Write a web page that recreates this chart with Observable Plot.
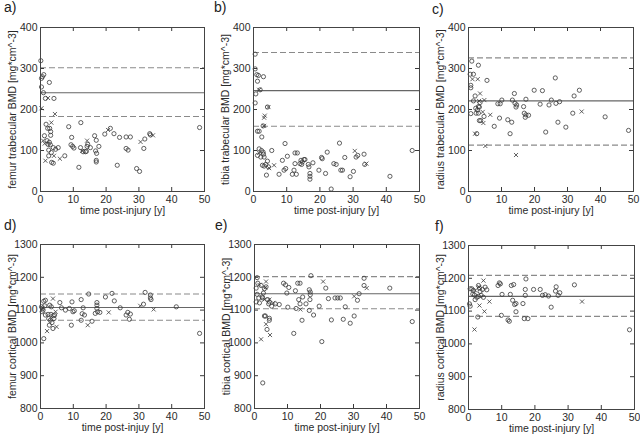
<!DOCTYPE html>
<html>
<head>
<meta charset="utf-8">
<script src="https://cdn.jsdelivr.net/npm/d3@7"></script>
<script src="https://cdn.jsdelivr.net/npm/@observablehq/plot@0.6"></script>
<style>
  html, body { margin: 0; padding: 0; background: #fff; }
  #wrap { position: relative; width: 640px; height: 436px; overflow: hidden; background: #fff;
          font-family: "Liberation Sans", Arial, Helvetica, sans-serif; }
  .panel { position: absolute; }
  .tag { position: absolute; font-size: 14px; color: #222; }
</style>
</head>
<body>
<div id="wrap"></div>
<script>
// ---- data ----
const xTicks = [0, 10, 20, 30, 40, 50];
const trabTicks = [0, 100, 200, 300, 400];
const cortTicks = [800, 900, 1000, 1100, 1200, 1300];

// reference lines: [lower dashed, mean, upper dashed]
const femurTrabRef = [183, 241, 302];
const tibiaTrabRef = [159, 246, 339];
const radiusTrabRef = [113, 221, 326];
const femurCortRef = [1069, 1108, 1149];
const tibiaCortRef = [1104, 1150, 1202];
const radiusCortRef = [1084, 1145, 1209];

const femurTrabO = [[0.1,319],[0.3,276],[0.6,280],[1.0,285],[0.3,255],[0.9,241],[2.7,266],[1.5,227],[4.1,227],
[1.7,164],[1.2,136],[2.8,154],[2.2,154],[3.1,146],[3.1,137],[2.0,124],[2.7,120],[2.3,115],[3.0,114],[2.5,101],[3.3,95],[3.9,107],[4.6,103],[2.5,87],[3.4,71],[3.9,69],[5.4,107],[7.4,87],
[8.6,158],[9.5,132],[9.3,114],[9.8,110],[10.2,106],[11.7,59],[12.3,168],[12.2,107],[13.0,97],[13.7,97],[14.0,98],[14.2,110],[14.4,115],[15.2,107],[16.5,136],[17.0,125],[16.8,99],[17.1,93],[17.0,76],[17.0,72],[17.8,110],[19.6,140],[21.3,154],[22.4,141],[23.4,64],[24.1,132],[26.1,133],[26.1,105],[26.7,101],[27.4,133],[29.3,56],[30.2,49],[31.5,105],[31.8,128],[33.3,141],[33.5,138],[48.5,156]];
const femurTrabX = [[2.3,228],[0.3,203],[4.4,189],[3.3,168],[0.8,124],[1.3,117],[4.1,87],[1.5,75],[5.9,80],[12.7,99],[14.2,124],[20.6,150],[30.5,121],[34.3,137]];

const tibiaTrabO = [[0.5,335],[0.5,299],[1.0,285],[1.2,269],[1.5,283],[0.7,238],[0.5,216],[3.0,280],[2.0,248],[4.2,206],[2.9,160],[1.7,147],[1.2,147],[2.5,133],[1.7,104],[2.4,100],[2.9,96],[5.5,100],[1.2,88],[2.2,84],[3.0,91],[3.2,84],[2.7,64],[3.2,62],[3.7,66],[4.2,74],[4.5,60],[3.9,40],[7.7,42],[8.7,76],[9.5,117],[10.2,86],[9.7,56],[9.2,52],[11.7,42],[12.2,52],[12.5,68],[12.5,94],[13.2,94],[12.9,42],[14.0,68],[14.3,76],[14.5,66],[14.7,72],[15.2,78],[15.5,78],[16.5,66],[16.7,60],[17.0,44],[17.0,37],[17.0,30],[17.9,70],[19.7,52],[20.5,83],[20.7,80],[21.7,44],[22.2,96],[23.4,6],[24.2,68],[24.9,66],[25.9,118],[26.3,52],[26.8,52],[27.5,83],[29.1,36],[30.1,49],[30.9,84],[31.4,88],[33.3,91],[33.5,66],[41.1,37],[47.8,100]];
const tibiaTrabX = [[1.7,248],[4.5,206],[3.4,185],[3.2,180],[3.2,160],[1.7,94],[4.7,57],[6.2,64],[30.5,99],[34.0,68]];

const radiusTrabO = [[1.0,318],[0.5,286],[1.5,286],[3.0,308],[0.7,259],[0.7,253],[2.0,233],[5.6,271],[1.5,221],[3.5,217],[3.0,207],[2.2,203],[3.3,206],[2.7,199],[0.7,190],[2.3,191],[3.0,191],[4.7,183],[3.3,173],[3.7,173],[2.5,141],[7.8,159],[8.9,214],[9.6,214],[10.1,223],[9.4,179],[11.9,175],[12.6,141],[13.1,169],[13.3,223],[13.9,239],[14.1,215],[14.4,206],[14.6,211],[16.7,207],[17.4,225],[16.9,191],[17.2,181],[17.4,187],[18.2,186],[19.9,247],[21.7,213],[22.4,246],[23.4,145],[24.4,211],[25.1,223],[26.3,277],[26.5,215],[27.1,169],[27.6,219],[29.5,157],[31.6,191],[32.0,233],[33.6,247],[41.4,182],[48.5,149]];
const radiusTrabX = [[1.2,274],[2.8,274],[3.5,239],[3.2,221],[4.8,223],[4.3,194],[6.6,187],[4.5,167],[2.0,141],[5.1,111],[14.4,89],[34.3,195]];

const femurCortO = [[1.0,1013],[1.0,1127],[1.5,1130],[0.3,1110],[1.3,1113],[0.5,1095],[0.8,1100],[2.8,1115],[3.3,1110],[2.3,1087],[1.5,1085],[3.2,1087],[3.9,1083],[4.3,1085],[2.5,1074],[3.0,1069],[3.5,1062],[3.8,1044],[2.7,1054],[4.1,1074],[5.9,1123],[6.4,1107],[7.6,1100],[8.8,1105],[9.6,1125],[9.9,1095],[10.3,1098],[9.4,1054],[12.4,1132],[12.7,1089],[13.0,1107],[13.4,1085],[12.4,1069],[14.7,1149],[15.7,1066],[16.7,1090],[17.2,1123],[17.2,1115],[17.2,1105],[17.4,1095],[18.1,1093],[19.8,1140],[21.8,1151],[22.5,1128],[24.3,1107],[26.1,1085],[26.6,1093],[27.4,1088],[27.1,1072],[31.4,1118],[31.9,1154],[33.5,1146],[33.5,1137],[33.7,1132],[41.4,1110],[48.5,1029]];
const femurCortX = [[2.0,1036],[0.7,1107],[3.8,1135],[4.9,1049],[4.6,1095],[14.4,1054],[20.8,1093],[30.4,1113],[34.5,1102]];

const tibiaCortO = [[0.8,1199],[0.5,1167],[1.0,1182],[2.0,1175],[2.7,1152],[3.0,1165],[3.5,1171],[0.8,1148],[1.3,1137],[0.5,1125],[1.5,1122],[2.3,1140],[2.5,1137],[3.0,1082],[3.3,1082],[3.8,1041],[4.5,1075],[4.5,1069],[2.5,878],[4.5,1125],[5.2,1112],[6.3,1119],[7.5,1117],[4.0,1132],[4.3,1119],[8.8,1182],[9.4,1177],[9.8,1152],[10.1,1109],[10.4,1169],[11.9,1029],[12.4,1159],[12.6,1105],[13.1,1182],[13.8,1182],[13.4,1132],[13.8,1119],[14.4,1069],[14.6,1140],[15.6,1119],[16.6,1162],[16.9,1155],[16.9,1147],[16.8,1132],[16.6,1099],[17.1,1205],[17.9,1085],[19.6,1112],[20.4,1004],[21.6,1167],[22.4,1135],[23.3,1070],[24.4,1137],[25.2,1137],[26.0,1137],[26.9,1072],[27.5,1110],[29.0,1060],[30.2,1082],[31.2,1130],[31.7,1150],[33.2,1197],[33.2,1175],[41.0,1167],[47.8,1065]];
const tibiaCortX = [[1.5,1177],[3.3,1169],[3.5,1187],[3.0,1132],[3.5,1057],[4.7,1024],[2.0,1011],[4.5,1132],[5.7,1122],[13.9,1102],[20.8,1187],[30.2,1142],[34.0,1167]];

const radiusCortO = [[0.3,1122],[0.5,1115],[0.5,1168],[1.0,1168],[1.5,1163],[1.3,1152],[1.8,1149],[2.0,1135],[2.5,1142],[3.0,1145],[3.0,1178],[3.3,1170],[3.5,1160],[3.8,1148],[4.2,1166],[4.5,1142],[5.0,1173],[5.5,1165],[2.8,1082],[8.9,1178],[9.3,1186],[9.6,1183],[10.1,1151],[9.9,1087],[11.9,1073],[12.3,1069],[12.6,1151],[12.9,1178],[13.6,1181],[13.3,1133],[13.9,1120],[14.3,1123],[14.3,1098],[16.4,1123],[16.8,1077],[17.1,1166],[17.1,1148],[17.3,1198],[17.9,1077],[19.6,1166],[21.6,1166],[22.3,1148],[23.1,1150],[24.1,1146],[24.9,1112],[26.2,1161],[26.4,1174],[27.0,1148],[27.5,1156],[31.9,1180],[48.5,1043]];
const radiusCortX = [[2.0,1163],[3.2,1173],[4.5,1193],[3.3,1117],[1.8,1044],[4.8,1099],[6.3,1129],[34.2,1129]];

const panelTags = ["a)", "b)", "c)", "d)", "e)", "f)"];
const yLabels = ["femur trabecular BMD [mg*cm^-3]", "tibia trabecular BMD [mg*cm^-3]", "radius trabecular BMD [mg*cm^-3]",
                 "femur cortical BMD [mg*cm^-3]", "tibia cortical BMD [mg*cm^-3]", "radius cortical BMD [mg*cm^-3]"];
const xLabels = ["time post-injury [y]", "time post-injury [y]", "time post-injury [y]",
                 "time post-injuy [y]", "time post-injury [y]", "time post-injury [y]"];

// ---- layout ----
const layout = [
  {left: 0,   top: 0,   width: 212, ml: 40, fw: 164, tagX: 4,   tagY: -1},
  {left: 212, top: 0,   width: 213, ml: 41, fw: 166, tagX: 214, tagY: -1},
  {left: 425, top: 0,   width: 215, ml: 43, fw: 165, tagX: 432, tagY: 1},
  {left: 0,   top: 217, width: 212, ml: 40, fw: 164, tagX: 4,   tagY: 217},
  {left: 212, top: 217, width: 213, ml: 42, fw: 165, tagX: 215, tagY: 217},
  {left: 425, top: 218, width: 215, ml: 43, fw: 166, tagX: 435, tagY: 218}
];
const series = [
  {o: femurTrabO, x: femurTrabX, ref: femurTrabRef, yTicks: trabTicks},
  {o: tibiaTrabO, x: tibiaTrabX, ref: tibiaTrabRef, yTicks: trabTicks},
  {o: radiusTrabO, x: radiusTrabX, ref: radiusTrabRef, yTicks: trabTicks},
  {o: femurCortO, x: femurCortX, ref: femurCortRef, yTicks: cortTicks},
  {o: tibiaCortO, x: tibiaCortX, ref: tibiaCortRef, yTicks: cortTicks},
  {o: radiusCortO, x: radiusCortX, ref: radiusCortRef, yTicks: cortTicks}
];

const wrap = document.getElementById("wrap");
const FH = 164, MT = 27, MB = 27, H = 218;
const ink = "#3a3a3a";
const txt = "#2a2a2a";
const FONT = '"Liberation Sans", Arial, Helvetica, sans-serif';

series.forEach((s, i) => {
  const L = layout[i];
  const yDomain = [s.yTicks[0], s.yTicks[s.yTicks.length - 1]];
  const chart = Plot.plot({
    width: L.width, height: H,
    marginLeft: L.ml, marginRight: L.width - L.ml - L.fw,
    marginTop: MT, marginBottom: MB,
    x: {domain: [0, 50], axis: null},
    y: {domain: yDomain, axis: null},
    style: {fontFamily: FONT, fontSize: "10.5px", color: txt, background: "transparent", overflow: "visible"},
    marks: [
      Plot.ruleY([s.ref[0], s.ref[2]], {stroke: "#8a8a8a", strokeWidth: 1.1, strokeDasharray: "6,3"}),
      Plot.ruleY([s.ref[1]], {stroke: "#666", strokeWidth: 1.1}),
      // inward ticks on all four sides
      Plot.tickX(xTicks, {x: d => d, insetTop: FH - 4, stroke: ink}),
      Plot.tickX(xTicks, {x: d => d, insetBottom: FH - 4, stroke: ink}),
      Plot.tickY(s.yTicks, {y: d => d, insetRight: L.fw - 4, stroke: ink}),
      Plot.tickY(s.yTicks, {y: d => d, insetLeft: L.fw - 4, stroke: ink}),
      // tick labels
      Plot.text(xTicks, {x: d => d, text: d => String(d), frameAnchor: "bottom", lineAnchor: "top", textAnchor: "middle", dy: 4, fill: txt}),
      Plot.text(s.yTicks, {y: d => d, text: d => String(d), frameAnchor: "left", lineAnchor: "middle", textAnchor: "end", dx: -3, fill: txt}),
      // axis titles
      Plot.text([xLabels[i]], {text: d => d, frameAnchor: "bottom", lineAnchor: "top", textAnchor: "middle", dy: 15, fill: txt}),
      Plot.text([yLabels[i]], {text: d => d, frameAnchor: "left", lineAnchor: "middle", textAnchor: "middle", dx: -28, rotate: -90, fill: txt}),
      // data
      Plot.dot(s.o, {x: d => d[0], y: d => d[1], r: 2.1, symbol: "circle", stroke: ink, strokeWidth: 0.8, fill: "none"}),
      Plot.dot(s.x, {x: d => d[0], y: d => d[1], r: 2.0, symbol: "times", stroke: ink, strokeWidth: 0.8}),
      Plot.frame({stroke: "#444"})
    ]
  });
  const div = document.createElement("div");
  div.className = "panel";
  div.style.left = L.left + "px";
  div.style.top = L.top + "px";
  div.appendChild(chart);
  wrap.appendChild(div);
  const tag = document.createElement("div");
  tag.className = "tag";
  tag.style.left = L.tagX + "px";
  tag.style.top = L.tagY + "px";
  tag.textContent = panelTags[i];
  wrap.appendChild(tag);
});
</script>
</body>
</html>
